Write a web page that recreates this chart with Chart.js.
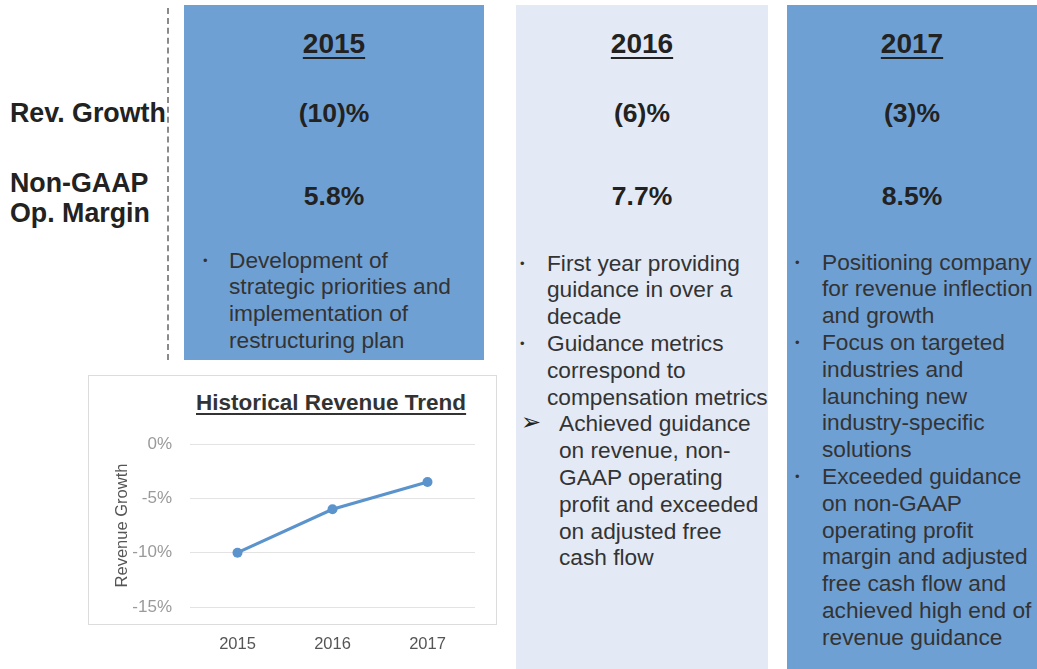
<!DOCTYPE html>
<html>
<head>
<meta charset="utf-8">
<script src="https://cdn.jsdelivr.net/npm/chart.js@4.4.1/dist/chart.umd.min.js"></script>
<style>
  html, body { margin:0; padding:0; background:#fff; }
  body { width:1037px; height:669px; position:relative; overflow:hidden; font-family:"Liberation Sans", Arial, Helvetica, sans-serif; color:#222; }
  .panel { position:absolute; }
  .blue { background:#6fa0d4; }
  .light { background:#e3eaf5; }
  .abs { position:absolute; white-space:nowrap; }
  .year { font-weight:bold; font-size:28px; text-decoration:underline; text-underline-offset:4px; text-decoration-thickness:2px; text-align:center; line-height:32px; color:#222; }
  .val { font-weight:bold; font-size:26.5px; text-align:center; line-height:30px; color:#222; }
  .lbl { font-weight:bold; font-size:26.8px; line-height:30px; color:#222; }
  .bul { font-size:22.7px; line-height:26.8px; color:#333; }
  .dot { font-size:13px; color:#333; }
  .arrow { font-family:"DejaVu Sans", sans-serif; font-size:24px; color:#222; }
  #dash { position:absolute; left:167px; top:8px; height:352px; border-left:2px dashed #8a8a8a; }
  #box { position:absolute; left:88px; top:375px; width:407px; height:248px; border:1px solid #dcdcdc; background:#fff; }
  #ctitle { position:absolute; left:196px; top:390px; font-weight:bold; font-size:22.5px; text-decoration:underline; text-underline-offset:3px; color:#333; white-space:nowrap; line-height:26px; }
  #chartWrap { position:absolute; left:88px; top:375px; width:409px; height:294px; }
</style>
</head>
<body>
<div id="dash"></div>
<div class="panel blue" style="left:184px; top:5px; width:300px; height:355px;"></div>
<div class="panel light" style="left:516px; top:5px; width:252px; height:664px;"></div>
<div class="panel blue" style="left:787px; top:5px; width:250px; height:664px;"></div>

<div id="box"></div>
<div id="ctitle"></div>
<div id="chartWrap"><canvas id="c"></canvas></div>

<div id="content"></div>

<script>
// ---- data ----
const years = ['2015', '2016', '2017'];
const revGrowth = [-10, -6, -3.5];
const revGrowthText = ['(10)%', '(6)%', '(3)%'];
const marginText = ['5.8%', '7.7%', '8.5%'];
const rowLabels = ['Rev. Growth', 'Non-GAAP', 'Op. Margin'];
const yTickValues = [0, -5, -10, -15];
const chartTitle = 'Historical Revenue Trend';
const yAxisTitle = 'Revenue Growth';
const notes2015 = [
  ['•', ['Development of', 'strategic priorities and', 'implementation of', 'restructuring plan']]
];
const notes2016 = [
  ['•', ['First year providing', 'guidance in over a', 'decade']],
  ['•', ['Guidance metrics', 'correspond to', 'compensation metrics']],
  ['➢', ['Achieved guidance', 'on revenue, non-', 'GAAP operating', 'profit and exceeded', 'on adjusted free', 'cash flow']]
];
const notes2017 = [
  ['•', ['Positioning company', 'for revenue inflection', 'and growth']],
  ['•', ['Focus on targeted', 'industries and', 'launching new', 'industry-specific', 'solutions']],
  ['•', ['Exceeded guidance', 'on non-GAAP', 'operating profit', 'margin and adjusted', 'free cash flow and', 'achieved high end of', 'revenue guidance']]
];

// ---- text layout ----
const content = document.getElementById('content');
function add(cls, text, style) {
  const d = document.createElement('div');
  d.className = 'abs ' + cls;
  d.textContent = text;
  Object.assign(d.style, style);
  content.appendChild(d);
  return d;
}
const panelCenters = [334, 642, 912];
years.forEach((y, i) => {
  add('year', y, { left: (panelCenters[i] - 100) + 'px', width: '200px', top: '28px' });
  add('val', revGrowthText[i], { left: (panelCenters[i] - 100) + 'px', width: '200px', top: '98px' });
  add('val', marginText[i], { left: (panelCenters[i] - 100) + 'px', width: '200px', top: '181px' });
});
add('lbl', rowLabels[0], { left: '10px', top: '98px' });
add('lbl', rowLabels[1], { left: '10px', top: '168px' });
add('lbl', rowLabels[2], { left: '10px', top: '198px' });

function notes(list, cfg) {
  let y = cfg.top;
  const lh = 26.8;
  list.forEach(([mark, lines]) => {
    if (mark === '➢') {
      add('arrow', mark, { left: cfg.arrowX + 'px', top: (y - 1) + 'px', lineHeight: lh + 'px' });
      lines.forEach((t, k) => add('bul', t, { left: cfg.arrowTextX + 'px', top: (y + k * lh) + 'px' }));
    } else {
      add('dot', mark, { left: cfg.dotX + 'px', top: (y + 1) + 'px', lineHeight: lh + 'px' });
      lines.forEach((t, k) => add('bul', t, { left: cfg.textX + 'px', top: (y + k * lh) + 'px' }));
    }
    y += lines.length * lh;
  });
}
notes(notes2015, { top: 246.5, dotX: 203, textX: 229 });
notes(notes2016, { top: 249.5, dotX: 520, textX: 547, arrowX: 521, arrowTextX: 559 });
notes(notes2017, { top: 248.5, dotX: 795, textX: 822 });

document.getElementById('ctitle').textContent = chartTitle;

// ---- chart ----
const lineColor = '#5b93cd';
new Chart(document.getElementById('c'), {
  type: 'line',
  data: {
    labels: years,
    datasets: [{
      data: revGrowth,
      borderColor: lineColor,
      backgroundColor: lineColor,
      borderWidth: 3.2,
      pointRadius: 5,
      pointBackgroundColor: lineColor,
      pointBorderWidth: 0,
      tension: 0
    }]
  },
  options: {
    responsive: true,
    maintainAspectRatio: false,
    animation: false,
    layout: { padding: { left: 23, top: 69, right: 22, bottom: 0 } },
    plugins: { legend: { display: false }, tooltip: { enabled: false }, title: { display: false } },
    scales: {
      x: {
        offset: true,
        grid: { display: false, drawTicks: false },
        border: { display: false },
        ticks: { color: '#555', font: { family: 'Liberation Sans', size: 16.5 }, padding: 28 },
        afterFit: s => { s.height = 62; }
      },
      y: {
        min: -15, max: 0,
        afterBuildTicks: s => { s.ticks = yTickValues.map(v => ({ value: v })); },
        grid: { color: '#e3e3e3', lineWidth: 1, drawTicks: false },
        border: { display: false },
        ticks: { color: '#9a9a9a', font: { family: 'Liberation Sans', size: 17 }, padding: 18, callback: v => v + '%' },
        title: { display: true, text: yAxisTitle, color: '#555', font: { family: 'Liberation Sans', size: 16.5 }, padding: { top: 2, bottom: 4 } },
        afterFit: s => { s.width = 79; }
      }
    }
  }
});
</script>
</body>
</html>
